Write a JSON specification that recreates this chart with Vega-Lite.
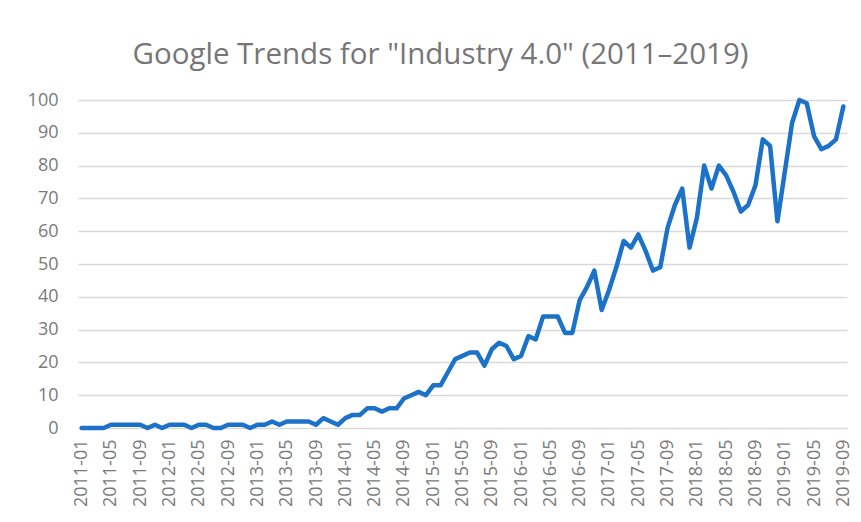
{
  "$schema": "https://vega.github.io/schema/vega-lite/v6.json",
  "autosize": {"type": "none"},
  "width": 769,
  "height": 328,
  "padding": {"left": 78, "top": 100, "right": 14, "bottom": 94},
  "background": "white",
  "title": {
    "text": "Google Trends for \"Industry 4.0\" (2011–2019)",
    "font": "Open Sans",
    "fontSize": 29.5,
    "fontWeight": "normal",
    "color": "#767676",
    "anchor": "middle",
    "frame": "group",
    "dx": -22,
    "offset": 21
  },
  "data": {
    "values": [
      {"month": "2011-01", "value": 0}, {"month": "2011-02", "value": 0}, {"month": "2011-03", "value": 0}, {"month": "2011-04", "value": 0},
      {"month": "2011-05", "value": 1}, {"month": "2011-06", "value": 1}, {"month": "2011-07", "value": 1}, {"month": "2011-08", "value": 1},
      {"month": "2011-09", "value": 1}, {"month": "2011-10", "value": 0}, {"month": "2011-11", "value": 1}, {"month": "2011-12", "value": 0},
      {"month": "2012-01", "value": 1}, {"month": "2012-02", "value": 1}, {"month": "2012-03", "value": 1}, {"month": "2012-04", "value": 0},
      {"month": "2012-05", "value": 1}, {"month": "2012-06", "value": 1}, {"month": "2012-07", "value": 0}, {"month": "2012-08", "value": 0},
      {"month": "2012-09", "value": 1}, {"month": "2012-10", "value": 1}, {"month": "2012-11", "value": 1}, {"month": "2012-12", "value": 0},
      {"month": "2013-01", "value": 1}, {"month": "2013-02", "value": 1}, {"month": "2013-03", "value": 2}, {"month": "2013-04", "value": 1},
      {"month": "2013-05", "value": 2}, {"month": "2013-06", "value": 2}, {"month": "2013-07", "value": 2}, {"month": "2013-08", "value": 2},
      {"month": "2013-09", "value": 1}, {"month": "2013-10", "value": 3}, {"month": "2013-11", "value": 2}, {"month": "2013-12", "value": 1},
      {"month": "2014-01", "value": 3}, {"month": "2014-02", "value": 4}, {"month": "2014-03", "value": 4}, {"month": "2014-04", "value": 6},
      {"month": "2014-05", "value": 6}, {"month": "2014-06", "value": 5}, {"month": "2014-07", "value": 6}, {"month": "2014-08", "value": 6},
      {"month": "2014-09", "value": 9}, {"month": "2014-10", "value": 10}, {"month": "2014-11", "value": 11}, {"month": "2014-12", "value": 10},
      {"month": "2015-01", "value": 13}, {"month": "2015-02", "value": 13}, {"month": "2015-03", "value": 17}, {"month": "2015-04", "value": 21},
      {"month": "2015-05", "value": 22}, {"month": "2015-06", "value": 23}, {"month": "2015-07", "value": 23}, {"month": "2015-08", "value": 19},
      {"month": "2015-09", "value": 24}, {"month": "2015-10", "value": 26}, {"month": "2015-11", "value": 25}, {"month": "2015-12", "value": 21},
      {"month": "2016-01", "value": 22}, {"month": "2016-02", "value": 28}, {"month": "2016-03", "value": 27}, {"month": "2016-04", "value": 34},
      {"month": "2016-05", "value": 34}, {"month": "2016-06", "value": 34}, {"month": "2016-07", "value": 29}, {"month": "2016-08", "value": 29},
      {"month": "2016-09", "value": 39}, {"month": "2016-10", "value": 43}, {"month": "2016-11", "value": 48}, {"month": "2016-12", "value": 36},
      {"month": "2017-01", "value": 42}, {"month": "2017-02", "value": 49}, {"month": "2017-03", "value": 57}, {"month": "2017-04", "value": 55},
      {"month": "2017-05", "value": 59}, {"month": "2017-06", "value": 54}, {"month": "2017-07", "value": 48}, {"month": "2017-08", "value": 49},
      {"month": "2017-09", "value": 61}, {"month": "2017-10", "value": 68}, {"month": "2017-11", "value": 73}, {"month": "2017-12", "value": 55},
      {"month": "2018-01", "value": 64}, {"month": "2018-02", "value": 80}, {"month": "2018-03", "value": 73}, {"month": "2018-04", "value": 80},
      {"month": "2018-05", "value": 77}, {"month": "2018-06", "value": 72}, {"month": "2018-07", "value": 66}, {"month": "2018-08", "value": 68},
      {"month": "2018-09", "value": 74}, {"month": "2018-10", "value": 88}, {"month": "2018-11", "value": 86}, {"month": "2018-12", "value": 63},
      {"month": "2019-01", "value": 78}, {"month": "2019-02", "value": 93}, {"month": "2019-03", "value": 100}, {"month": "2019-04", "value": 99},
      {"month": "2019-05", "value": 89}, {"month": "2019-06", "value": 85}, {"month": "2019-07", "value": 86}, {"month": "2019-08", "value": 88},
      {"month": "2019-09", "value": 98}
    ]
  },
  "mark": {"type": "line", "color": "#1B72C8", "strokeWidth": 4.5, "strokeJoin": "round", "strokeCap": "round"},
  "encoding": {
    "x": {
      "field": "month",
      "type": "ordinal",
      "sort": null,
      "scale": {"type": "point", "padding": 0.5},
      "axis": {
        "title": null,
        "values": ["2011-01","2011-05","2011-09","2012-01","2012-05","2012-09","2013-01","2013-05","2013-09","2014-01","2014-05","2014-09","2015-01","2015-05","2015-09","2016-01","2016-05","2016-09","2017-01","2017-05","2017-09","2018-01","2018-05","2018-09","2019-01","2019-05","2019-09"],
        "labelAngle": -90,
        "labelAlign": "right",
        "labelBaseline": "middle",
        "labelFont": "Open Sans",
        "labelFontSize": 18,
        "labelColor": "#7a7a7a",
        "labelPadding": 11,
        "ticks": false,
        "domain": false,
        "grid": false,
        "labelOverlap": false
      }
    },
    "y": {
      "field": "value",
      "type": "quantitative",
      "scale": {"domain": [0, 100], "nice": false, "zero": true},
      "axis": {
        "title": null,
        "values": [0, 10, 20, 30, 40, 50, 60, 70, 80, 90, 100],
        "labelFont": "Open Sans",
        "labelFontSize": 18,
        "labelColor": "#7a7a7a",
        "labelPadding": 20,
        "ticks": false,
        "domain": false,
        "grid": true,
        "gridColor": "#d9d9d9",
        "gridWidth": 1.5,
        "labelOverlap": false
      }
    }
  },
  "config": {"view": {"stroke": null}}
}
